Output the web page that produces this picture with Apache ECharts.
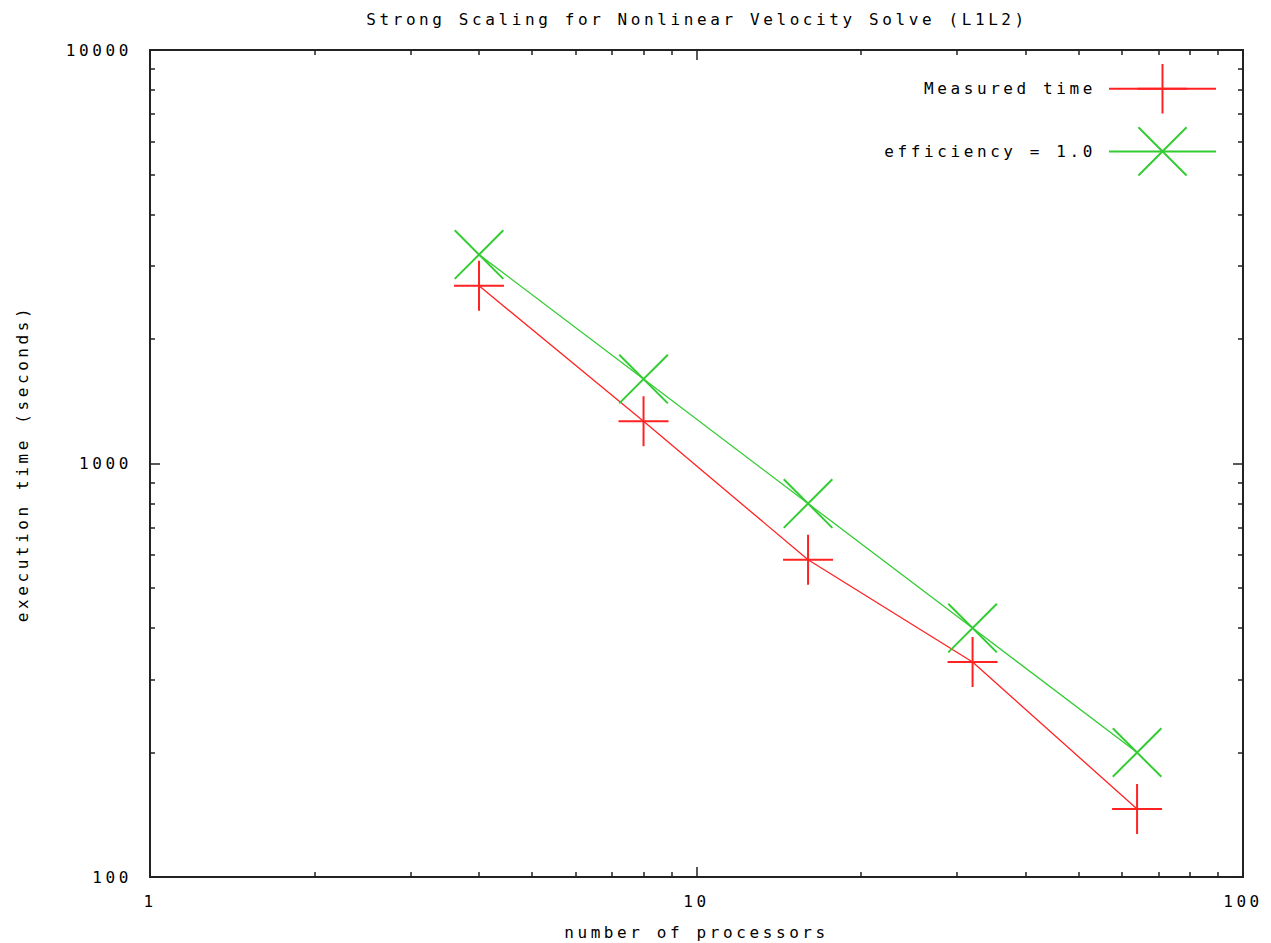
<!DOCTYPE html>
<html>
<head>
<meta charset="utf-8">
<script src="https://cdn.jsdelivr.net/npm/echarts@6/dist/echarts.min.js"></script>
<style>
    html, body { margin: 0; padding: 0; background: #fff; }
    #main { width: 1271px; height: 943px; }
    /* gnuplot style wide spacing of the mono font */
    #main text { letter-spacing: 3.6px; }
</style>
</head>
<body>
<div id="main"></div>
<script>
// processors and timings
var procs = [4, 8, 16, 32, 64];
var measuredTime = [2690, 1265, 585, 331, 146];
var idealTime = [3200, 1600, 800, 400, 200];

var xMajor = [1, 10, 100];
var xMinor = [2, 3, 4, 5, 6, 7, 8, 9, 20, 30, 40, 50, 60, 70, 80, 90];
var yMajor = [100, 1000, 10000];
var yMinor = [200, 300, 400, 500, 600, 700, 800, 900, 2000, 3000, 4000, 5000, 6000, 7000, 8000, 9000];

var fontName = 'DejaVu Sans Mono';
var plusPath = 'path://M0,24 L50,24 L50,26 L0,26 Z M24,0 L26,0 L26,50 L24,50 Z';
var crossPath = 'path://M0,1.4 L1.4,0 L50,48.6 L48.6,50 Z M48.6,0 L50,1.4 L1.4,50 L0,48.6 Z';

function pairs(xs, ys) {
    var out = [];
    for (var i = 0; i < xs.length; i++) {
        out.push([xs[i], ys[i]]);
    }
    return out;
}

// one axis per side for the long ticks, one for the short ticks
function xAx(pos, ticks, len, labels) {
    return {
        type: 'log', logBase: 10, min: 1, max: 100, position: pos,
        name: labels ? 'number of processors' : '',
        nameLocation: 'middle', nameGap: 47,
        nameTextStyle: { fontFamily: fontName, fontSize: 16, color: '#000' },
        axisLine: { show: true, onZero: false, lineStyle: { color: '#222', width: 2 } },
        axisTick: { show: true, inside: true, length: len, customValues: ticks, lineStyle: { color: '#222', width: 1.5 } },
        axisLabel: {
            show: labels, margin: 16, fontFamily: fontName, fontSize: 16, color: '#000', customValues: xMajor,
            formatter: function (v) { return String(v); }
        },
        splitLine: { show: false }
    };
}
function yAx(pos, ticks, len, labels) {
    return {
        type: 'log', logBase: 10, min: 100, max: 10000, position: pos,
        name: labels ? 'execution time (seconds)' : '',
        nameLocation: 'middle', nameGap: 120, nameRotate: 90,
        nameTextStyle: { fontFamily: fontName, fontSize: 16, color: '#000' },
        axisLine: { show: true, onZero: false, lineStyle: { color: '#222', width: 2 } },
        axisTick: { show: true, inside: true, length: len, customValues: ticks, lineStyle: { color: '#222', width: 1.5 } },
        axisLabel: {
            show: labels, margin: 18, fontFamily: fontName, fontSize: 16, color: '#000', customValues: yMajor,
            formatter: function (v) { return String(v); }
        },
        splitLine: { show: false }
    };
}

function chart() {
    var myChart = echarts.init(document.getElementById('main'), null, { renderer: 'svg' });
    var option = {
        backgroundColor: '#fff',
        animation: false,
        title: {
            text: 'Strong Scaling for Nonlinear Velocity Solve (L1L2)',
            left: 692, top: 6, textAlign: 'center',
            textStyle: { fontFamily: fontName, fontSize: 16, fontWeight: 'normal', color: '#000' }
        },
        legend: {
            orient: 'vertical',
            right: 54, top: 64,
            padding: 0,
            align: 'right',
            itemWidth: 107, itemHeight: 62, itemGap: 13,
            textStyle: { fontFamily: fontName, fontSize: 16, color: '#000', padding: [0, 8, 0, 0] },
            data: ['Measured time', 'efficiency = 1.0']
        },
        grid: { left: 150, right: 28, top: 50, bottom: 66, outerBoundsMode: 'none' },
        xAxis: [
            xAx('bottom', xMajor, 10, true),
            xAx('bottom', xMinor, 5, false),
            xAx('top', xMajor, 10, false),
            xAx('top', xMinor, 5, false)
        ],
        yAxis: [
            yAx('left', yMajor, 10, true),
            yAx('left', yMinor, 5, false),
            yAx('right', yMajor, 10, false),
            yAx('right', yMinor, 5, false)
        ],
        series: [{
            name: 'Measured time',
            type: 'line',
            data: pairs(procs, measuredTime),
            symbol: plusPath,
            symbolSize: 50,
            itemStyle: { color: '#ff2222' },
            lineStyle: { color: '#ff2222', width: 1.3 }
        }, {
            name: 'efficiency = 1.0',
            type: 'line',
            data: pairs(procs, idealTime),
            symbol: crossPath,
            symbolSize: 50,
            itemStyle: { color: '#33cc33' },
            lineStyle: { color: '#33cc33', width: 1.3 }
        }]
    };
    myChart.setOption(option);
}
chart();
</script>
</body>
</html>
